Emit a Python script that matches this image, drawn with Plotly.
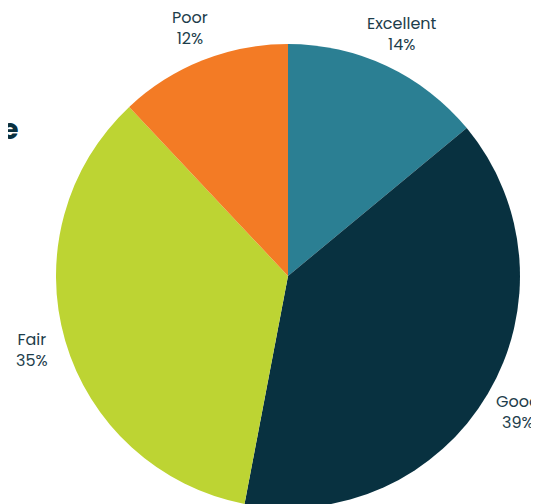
import numpy as np
import plotly.graph_objects as go

categories = ["Excellent", "Good", "Fair", "Poor"]
shares = [14, 39, 35, 12]
colors = ["#2b7f93", "#083140", "#bdd433", "#f37b25"]
title_text = "Customer Satisfaction Rate"

W, H = 539, 504
# pie placement (pixels in the figure)
cx_px, cy_px, r_px = 280, 268, 232
label_r_px = 267

fig = go.Figure(go.Pie(
    labels=categories,
    values=shares,
    sort=False,
    direction="clockwise",
    rotation=0,
    marker=dict(colors=colors, line=dict(width=0)),
    textinfo="none",
    domain=dict(x=[(cx_px - r_px) / W, (cx_px + r_px) / W],
                y=[1 - (cy_px + r_px) / H, 1 - (cy_px - r_px) / H]),
    showlegend=False,
    hovertemplate="%{label}: %{percent}<extra></extra>",
))

# labels centred on each slice's mid-angle, outside the pie
vals = np.array(shares, dtype=float)
frac = vals / vals.sum()
mid = (np.cumsum(frac) - frac / 2) * 2 * np.pi
for lab, f, a in zip(categories, frac, mid):
    x = (cx_px + label_r_px * np.sin(a)) / W
    y = 1 - (cy_px - label_r_px * np.cos(a)) / H
    fig.add_annotation(
        text=f"{lab}<br>{f * 100:.0f}%",
        xref="paper", yref="paper", x=x, y=y,
        xanchor="center", yanchor="middle", showarrow=False,
        font=dict(size=16, color="#1d3d4b", family="Poppins, Lato, sans-serif"),
    )

fig.add_annotation(
    text=f"<b>{title_text}</b>",
    xref="paper", yref="paper",
    x=13 / W, y=1 - 121 / H,
    xanchor="right", yanchor="middle",
    showarrow=False,
    font=dict(size=28, color="#0a3140", family="Poppins, Lato, sans-serif"),
)

fig.update_layout(
    width=W, height=H,
    margin=dict(l=0, r=0, t=0, b=0),
    paper_bgcolor="white",
    plot_bgcolor="white",
)

fig.write_html("out.html")
